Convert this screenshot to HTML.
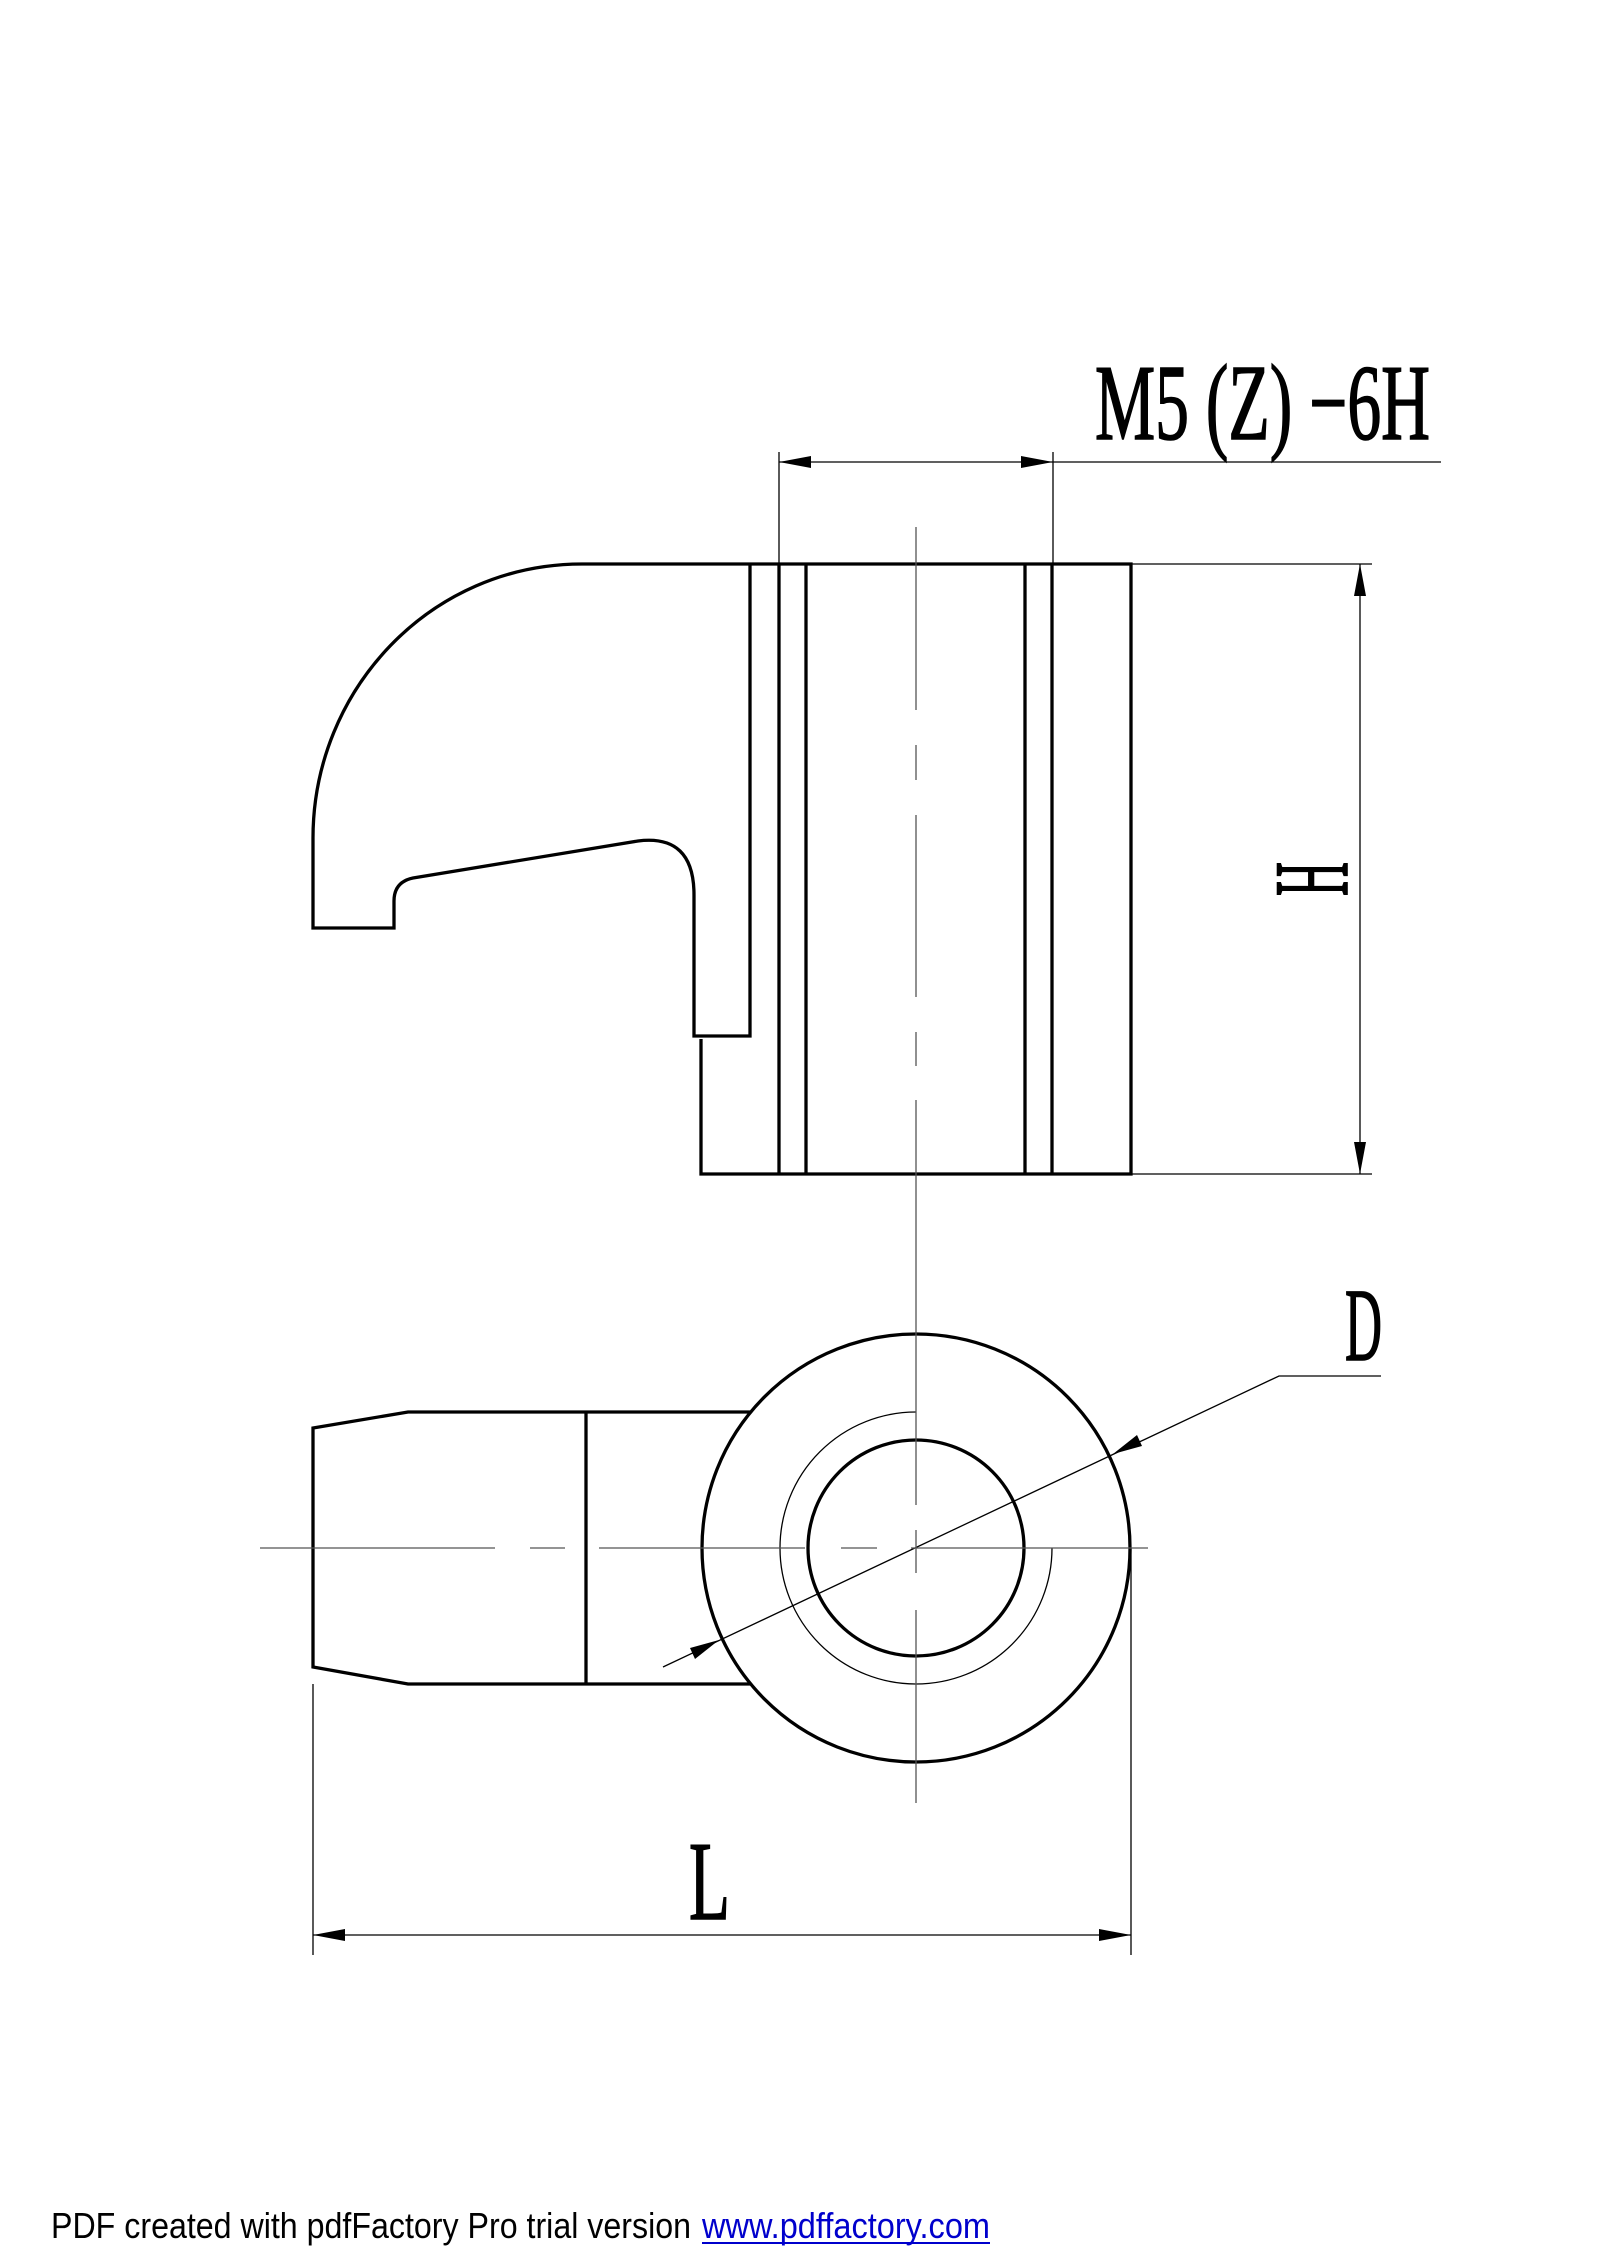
<!DOCTYPE html>
<html><head><meta charset="utf-8"><style>
html,body{margin:0;padding:0;background:#fff;}
svg{display:block;}
</style></head><body>
<svg width="1600" height="2264" viewBox="0 0 1600 2264" xmlns="http://www.w3.org/2000/svg">
<rect width="1600" height="2264" fill="#fff"/>
<g fill="none" stroke="#000" stroke-width="3.3" stroke-linejoin="miter">
  <path d="M582,564 L1131,564 L1131,1174 L701,1174 L701,1039"/>
  <path d="M582,564 C430,564 313,690 313,838 L313,928 L394,928 L394,901 Q394,882 413,878 L638,841 Q694,834 694,895 L694,1036 L750,1036 L750,564"/>
  <line x1="779" y1="564" x2="779" y2="1174"/>
  <line x1="806" y1="564" x2="806" y2="1174"/>
  <line x1="1025" y1="564" x2="1025" y2="1174"/>
  <line x1="1052" y1="564" x2="1052" y2="1174"/>
  <path d="M750,1412 L408,1412 L313,1428 L313,1667 L408,1684 L750,1684"/>
  <line x1="586" y1="1412" x2="586" y2="1684"/>
  <circle cx="916" cy="1548" r="214"/>
  <circle cx="916" cy="1548" r="108"/>
</g>
<g fill="none" stroke="#000" stroke-width="1.3">
  <path d="M916,1412 A136,136 0 1 0 1052,1548"/>
  <line x1="779" y1="452" x2="779" y2="564"/>
  <line x1="1053" y1="452" x2="1053" y2="564"/>
  <line x1="779" y1="462" x2="1441" y2="462"/>
  <line x1="1131" y1="564" x2="1372" y2="564"/>
  <line x1="1131" y1="1174" x2="1372" y2="1174"/>
  <line x1="1360" y1="564" x2="1360" y2="1174"/>
  <line x1="313" y1="1684" x2="313" y2="1955"/>
  <line x1="1131" y1="1548" x2="1131" y2="1955"/>
  <line x1="313" y1="1935" x2="1131" y2="1935"/>
  <polyline points="663,1667 1279,1376 1381,1376"/>
</g>
<g fill="#000">
  <polygon points="779,462 811,456 811,468"/>
  <polygon points="1053,462 1021,456 1021,468"/>
  <polygon points="1360,564 1354,596 1366,596"/>
  <polygon points="1360,1174 1354,1142 1366,1142"/>
  <polygon points="313,1935 345,1929 345,1941"/>
  <polygon points="1131,1935 1099,1929 1099,1941"/>
  <polygon points="719,1640 690,1648 695,1659"/>
  <polygon points="1113,1454 1142,1446 1137,1435"/>
</g>
<g stroke="#555" stroke-width="1.3" fill="none">
  <path d="M916,527 V710 M916,745 V780 M916,815 V997 M916,1032 V1066 M916,1100 V1505 M916,1530 V1573 M916,1610 V1803"/>
  <path d="M260,1548 H495 M530,1548 H565 M599,1548 H805 M841,1548 H877 M911,1548 H1148"/>
</g>
<g font-family="'Liberation Serif', serif" fill="#000" stroke="#000" stroke-width="1.6">
  <text x="1095" y="439" font-size="108" textLength="335" lengthAdjust="spacingAndGlyphs">M5 (Z) −6H</text>
  <text x="1345" y="1360" font-size="104" textLength="37" lengthAdjust="spacingAndGlyphs">D</text>
  <text x="689" y="1919" font-size="112" textLength="41" lengthAdjust="spacingAndGlyphs">L</text>
  <text transform="translate(1347,879) rotate(-90)" x="0" y="0" font-size="106" text-anchor="middle" textLength="34" lengthAdjust="spacingAndGlyphs">H</text>
</g>
<text x="51" y="2238" font-family="'Liberation Sans', sans-serif" font-size="36" fill="#000" textLength="640" lengthAdjust="spacingAndGlyphs">PDF created with pdfFactory Pro trial version</text>
<text x="702" y="2238" font-family="'Liberation Sans', sans-serif" font-size="36" fill="#0000cc" textLength="288" lengthAdjust="spacingAndGlyphs">www.pdffactory.com</text>
<line x1="702" y1="2243" x2="990" y2="2243" stroke="#0000cc" stroke-width="2"/>
</svg>
</body></html>
